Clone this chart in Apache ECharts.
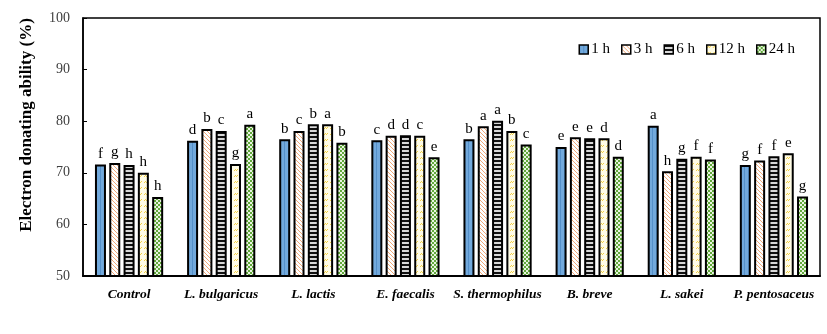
<!DOCTYPE html>
<html><head><meta charset="utf-8">
<script src="https://cdn.jsdelivr.net/npm/echarts@6/dist/echarts.min.js"></script>
<style>html,body{margin:0;padding:0;background:#fff}#c{width:827px;height:334px}</style>
</head><body><div id="c"></div>
<script>
const categories = ['Control','L. bulgaricus','L. lactis','E. faecalis','S. thermophilus','B. breve','L. sakei','P. pentosaceus'];
const seriesNames = ['1 h','3 h','6 h','12 h','24 h'];
const yTicks = [50, 60, 70, 80, 90, 100];
const v1h  = [71.6, 76.2, 76.5, 76.3, 76.5, 75.0, 79.1, 71.5];
const v3h  = [71.9, 78.5, 78.1, 77.2, 79.0, 76.9, 70.3, 72.4];
const v6h  = [71.5, 78.1, 79.4, 77.3, 80.1, 76.7, 72.7, 73.2];
const v12h = [70.0, 71.7, 79.4, 77.2, 78.1, 76.7, 73.1, 73.8];
const v24h = [65.3, 79.3, 75.8, 73.0, 75.5, 73.1, 72.6, 65.4];
const l1h  = ['f','d','b','c','b','e','a','g'];
const l3h  = ['g','b','c','d','a','e','h','f'];
const l6h  = ['h','c','b','d','a','e','g','f'];
const l12h = ['h','g','a','c','b','d','f','e'];
const l24h = ['h','a','b','e','c','d','f','g'];

const values = [v1h, v3h, v6h, v12h, v24h];
const letters = [l1h, l3h, l6h, l12h, l24h];

function pat(draw, w, h) {
  const c = document.createElement('canvas');
  c.width = w; c.height = h;
  draw(c.getContext('2d'));
  return { image: c, repeat: 'repeat' };
}
const patterns = [
  pat(g => { g.fillStyle = '#72a9dc'; g.fillRect(0,0,4,4); g.fillStyle = '#5590c9'; g.fillRect(0,0,1,4); }, 4, 4),
  pat(g => { g.fillStyle = '#fff'; g.fillRect(0,0,4,4); g.fillStyle = '#f0a878';
    for (let i=0;i<4;i++){ g.fillRect(i,i,1,1); } }, 4, 4),
  pat(g => { g.fillStyle = '#d8d8d8'; g.fillRect(0,0,4,4); g.fillStyle = '#111'; g.fillRect(0,0,4,2); }, 4, 4),
  pat(g => { g.fillStyle = '#fffce6'; g.fillRect(0,0,6,6); g.fillStyle = '#f2cf45';
    g.fillRect(0,2,1,1); g.fillRect(1,1,1,1); g.fillRect(2,2,1,1); g.fillRect(3,1,1,1); }, 6, 6),
  pat(g => { g.fillStyle = '#62a83c'; g.fillRect(0,0,4,4); g.fillStyle = '#e8f4df';
    g.fillRect(0,0,2,2); g.fillRect(2,2,2,2); }, 4, 4)
];

const chart = echarts.init(document.getElementById('c'), null, { renderer: 'canvas' });
const serif = 'Liberation Serif';
chart.setOption({
  animation: false,
  backgroundColor: '#fff',
  grid: { left: 83, right: 7, top: 18, bottom: 58, show: true, borderColor: '#000', borderWidth: 1.5 },
  legend: {
    data: seriesNames, top: 37, right: 27, itemWidth: 9, itemHeight: 9, itemGap: 11, icon: 'rect',
    textStyle: { fontFamily: serif, fontSize: 15, color: '#000', padding: [0,0,0,-2] },
    itemStyle: { borderColor: '#000', borderWidth: 1.5 }
  },
  xAxis: {
    type: 'category', data: categories,
    axisLine: { lineStyle: { color: '#000', width: 2 } },
    axisTick: { show: false },
    axisLabel: { fontFamily: serif, fontStyle: 'italic', fontWeight: 'bold', fontSize: 13.5, color: '#000', margin: 12, interval: 0 }
  },
  yAxis: {
    type: 'value', min: yTicks[0], max: yTicks[yTicks.length-1], interval: 10,
    axisLine: { show: true, lineStyle: { color: '#000', width: 1.5 } },
    axisTick: { show: true, inside: true, length: 4, lineStyle: { color: '#000' } },
    splitLine: { show: false },
    axisLabel: { fontFamily: serif, fontSize: 14, color: '#404040', margin: 13 }
  },
  graphic: [{
    type: 'text', x: 27, y: 125, rotation: Math.PI / 2,
    style: { text: 'Electron donating ability (%)', fontFamily: serif, fontWeight: 'bold', fontSize: 17,
      fill: '#000', align: 'center', verticalAlign: 'middle' }
  }],
  series: seriesNames.map((name, si) => ({
    name, type: 'bar', data: values[si], barWidth: 11, barGap: '30%', barCategoryGap: '24%',
    itemStyle: { color: patterns[si], borderColor: '#000', borderWidth: 2 },
    label: {
      show: true, position: 'top', distance: 3,
      formatter: p => letters[si][p.dataIndex],
      fontFamily: serif, fontSize: 15, color: '#000'
    }
  }))
});
</script></body></html>
